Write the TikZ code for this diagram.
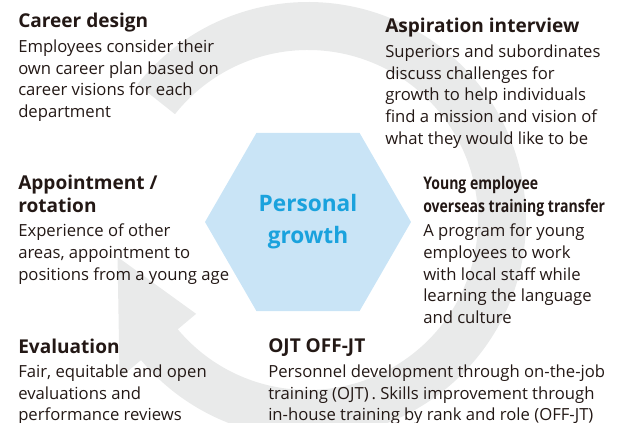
\documentclass[tikz,border=0pt]{standalone}
\usepackage{fontspec}
\setmainfont{Open Sans}
\newfontfamily\condfont[FakeStretch=0.81]{Open Sans}
\definecolor{ringgrey}{HTML}{E9EAEA}
\definecolor{hexblue}{HTML}{C9E4F6}
\definecolor{titleblue}{HTML}{1AA2DD}
\definecolor{textblack}{HTML}{231815}
\newcommand\bodysize{\fontsize{12.5}{16.3}\selectfont}
\newcommand\headsize{\fontsize{14.3}{17.3}\selectfont\bfseries}
\newcommand\condsize{\fontsize{13}{17.3}\selectfont\condfont\bfseries}
\tikzset{
  hexnode/.style={regular polygon, regular polygon sides=6, fill=hexblue,
    minimum size=154.5pt, inner sep=0pt, text=titleblue, align=center,
    font=\fontsize{17}{24}\selectfont\bfseries},
  head/.style={anchor=north west, inner sep=0pt, align=left, font=\headsize, text=textblack},
  condhead/.style={head, font=\condsize},
  body/.style={anchor=north west, inner sep=0pt, align=left, font=\bodysize, text=textblack}
}
\usetikzlibrary{shapes.geometric}
\begin{document}
\begin{tikzpicture}[x=0.75pt, y=0.75pt]
\useasboundingbox (0,0) rectangle (619,423);
% circular arrow
\coordinate (c) at (308,203);
\fill[ringgrey, shift={(c)}] (141.5:218) arc[start angle=141.5, end angle=-140, radius=218]
  -- (-140:246) -- (-169:194) -- (-140:146) -- (-140:170)
  arc[start angle=-140, end angle=141.5, radius=170] -- cycle;
% centre
\node[hexnode] (hex) at (308,201) {Personal\\growth};
% blocks
\node[head] (careerhd) at (18,410.5) {Career design};
\node[body] (careertxt) at (18,383.4) {Employees consider their\\own career plan based on\\career visions for each\\department};
\node[head] (aspirhd) at (385,405.5) {Aspiration interview};
\node[body] (aspirtxt) at (385,378.4) {Superiors and subordinates\\discuss challenges for\\growth to help individuals\\find a mission and vision of\\what they would like to be};
\node[head] (rotahd) at (18,248.5) {Appointment /\\rotation};
\node[body] (rotatxt) at (18,199.4) {Experience of other\\areas, appointment to\\positions from a young age};
\node[condhead] (overseahd) at (423,247.2) {Young employee\\overseas training transfer};
\node[body] (overseatxt) at (423,199.4) {A program for young\\employees to work\\with local staff while\\learning the language\\and culture};
\node[head] (evalhd) at (18,84.5) {Evaluation};
\node[body] (evaltxt) at (18,58.4) {Fair, equitable and open\\evaluations and\\performance reviews};
\node[head] (ojthd) at (268,84.5) {OJT OFF-JT};
\node[body] (ojttxt) at (268,58.4) {Personnel development through on-the-job\\training (OJT)\,. Skills improvement through\\in-house training by rank and role (OFF-JT)};
\end{tikzpicture}
\end{document}
